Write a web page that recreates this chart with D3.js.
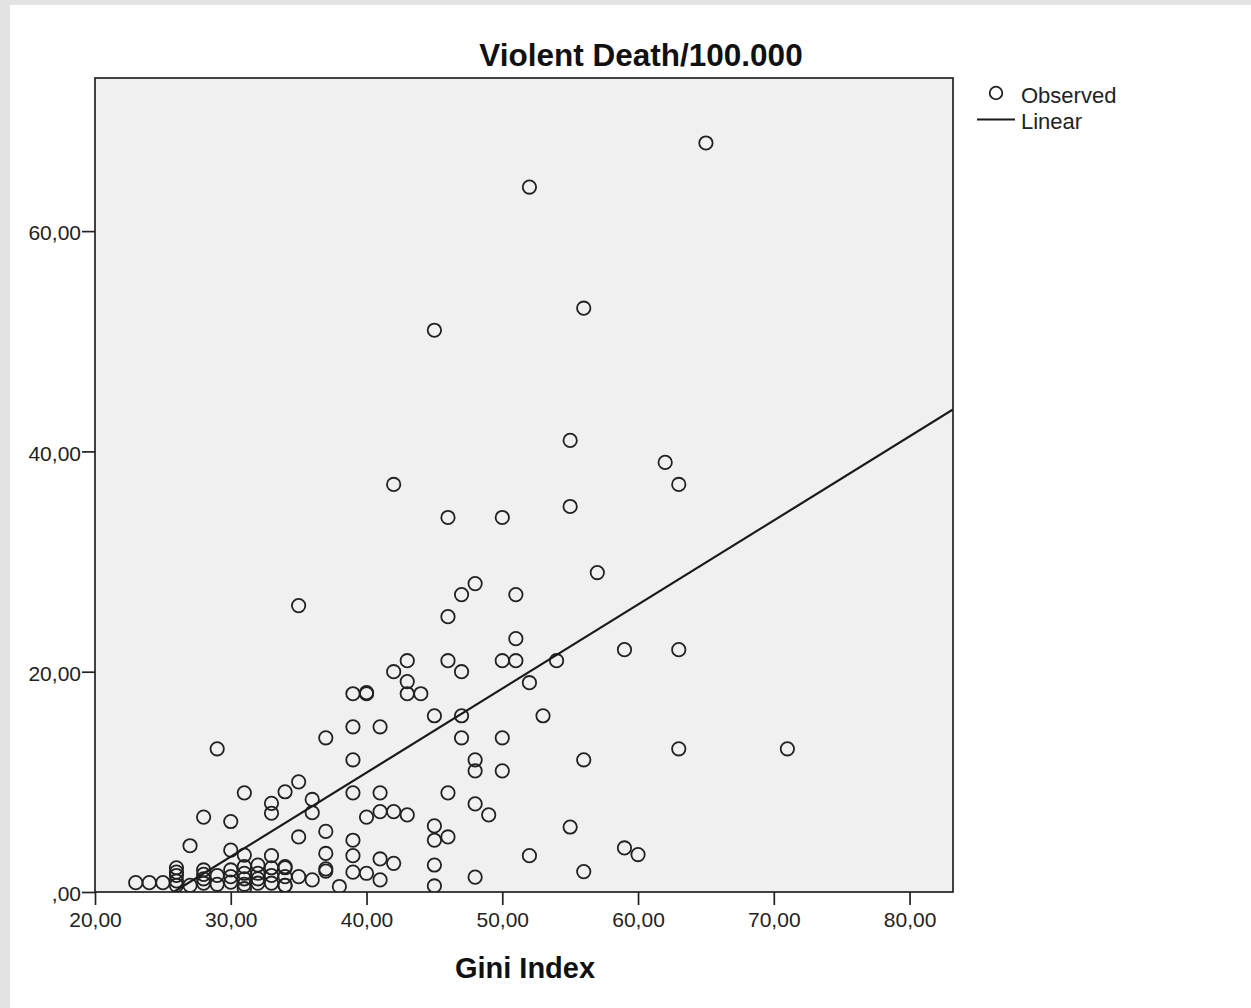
<!DOCTYPE html>
<html>
<head>
<meta charset="utf-8">
<script src="https://cdn.jsdelivr.net/npm/d3@7"></script>
<style>
  html, body { margin: 0; padding: 0; background: #e3e3e3; }
  #chart { position: absolute; left: 10px; top: 5px; width: 1241px; height: 1003px; background: #fff; }
  svg { display: block; }
</style>
</head>
<body>
<div id="chart"></div>
<script>
// Gini Index (x) vs Violent Death / 100.000 (y)
const giniIndex = [
  65, 52, 56, 45, 55, 62, 63, 42, 46, 50, 55, 57, 48, 47, 51, 35, 46, 51,
  46, 43, 50, 51, 54, 59, 63, 47, 42, 43, 43, 52, 39, 40, 40, 44, 45, 47,
  53, 39, 41, 37, 47, 50, 29, 63, 71, 48, 48, 39, 56, 50, 35, 34, 31, 39,
  41, 46, 36, 36, 33, 33, 48, 28, 30, 41, 42, 43, 40, 49, 45, 55, 35, 37,
  45, 46, 39, 27, 59, 60, 52, 37, 39, 41, 42, 45, 30, 31, 33, 32, 34, 37,
  37, 39, 40, 41, 56, 48, 38, 45, 36, 35, 34, 34, 23, 24, 25, 26, 26, 26,
  26, 26, 27, 28, 28, 28, 28, 29, 29, 30, 30, 30, 31, 31, 31, 31, 31, 32,
  32, 32, 33, 33, 33, 34, 34
];
const violentDeath = [
  68, 64, 53, 51, 41, 39, 37, 37, 34, 34, 35, 29, 28, 27, 27, 26, 25, 23,
  21, 21, 21, 21, 21, 22, 22, 20, 20, 19.1, 18, 19, 18, 18, 18.1, 18, 16, 16,
  16, 15, 15, 14, 14, 14, 13, 13, 13, 12, 11, 12, 12, 11, 10, 9.1, 9, 9,
  9, 9, 8.4, 7.2, 8.05, 7.15, 8, 6.8, 6.4, 7.3, 7.3, 7, 6.8, 7, 6, 5.9, 5, 5.5,
  4.7, 5, 4.7, 4.2, 4, 3.4, 3.3, 3.5, 3.3, 3, 2.6, 2.45, 3.8, 3.35, 3.3, 2.45, 2.3, 2.1,
  1.9, 1.8, 1.7, 1.1, 1.85, 1.35, 0.5, 0.55, 1.1, 1.4, 1.4, 0.6, 0.85, 0.85, 0.85, 2.2, 1.8, 1.5,
  1.0, 0.6, 0.6, 2.0, 1.6, 1.2, 0.8, 1.5, 0.7, 2.0, 1.4, 0.9, 2.3, 1.7, 1.2, 0.7, 0.3, 1.7,
  1.2, 0.8, 2.2, 1.5, 0.8, 2.2, 0.6
];
// linear fit line end points (x, y)
const fitX = [25.8, 83.2];
const fitY = [0, 43.8];

const xTicks = [20, 30, 40, 50, 60, 70, 80];
const yTicks = [0, 20, 40, 60];
const xDomain = [20, 83.2];
const yDomain = [0, 73.9];

const chartTitle = 'Violent Death/100.000';
const xTitle = 'Gini Index';
const legendLabels = ['Observed', 'Linear'];

const width = 1241;
const height = 1003;
// page offset of the white panel is (10,5); positions below are inside it
const plot = { left: 85, top: 73, right: 943, bottom: 887 };

const fmt = v => v === 0 ? ',00' : d3.format('.2f')(v).replace('.', ',');

const x = d3.scaleLinear().domain(xDomain).range([plot.left, plot.right]);
const y = d3.scaleLinear().domain(yDomain).range([plot.bottom, plot.top]);

const svg = d3.select('#chart')
  .append('svg')
  .attr('width', width)
  .attr('height', height)
  .style('font-family', '"Liberation Sans", Arial, sans-serif');

svg.append('defs').append('clipPath')
  .attr('id', 'plotClip')
  .append('rect')
  .attr('x', plot.left)
  .attr('y', plot.top)
  .attr('width', plot.right - plot.left)
  .attr('height', plot.bottom - plot.top);

// plot background
svg.append('rect')
  .attr('x', plot.left)
  .attr('y', plot.top)
  .attr('width', plot.right - plot.left)
  .attr('height', plot.bottom - plot.top)
  .attr('fill', '#f0f0f0');

// axes
const xAxis = svg.append('g')
  .attr('transform', `translate(0,${plot.bottom})`)
  .call(d3.axisBottom(x).tickValues(xTicks).tickFormat(fmt).tickSize(13).tickPadding(7));

const yAxis = svg.append('g')
  .attr('transform', `translate(${plot.left},0)`)
  .call(d3.axisLeft(y).tickValues(yTicks).tickFormat(fmt).tickSize(13).tickPadding(1));

[xAxis, yAxis].forEach(g => {
  g.select('.domain').remove();
  g.selectAll('.tick line').attr('stroke', '#222').attr('stroke-width', 1.7);
  g.selectAll('.tick text')
    .attr('font-size', '21px')
    .attr('fill', '#222')
    .attr('font-family', '"Liberation Sans", Arial, sans-serif');
});
yAxis.selectAll('.tick text').attr('dy', '0.42em');

// scatter points
svg.append('g')
  .attr('clip-path', 'url(#plotClip)')
  .selectAll('circle')
  .data(d3.zip(giniIndex, violentDeath))
  .enter()
  .append('circle')
  .attr('cx', d => x(d[0]))
  .attr('cy', d => y(d[1]))
  .attr('r', 6.7)
  .attr('fill', 'none')
  .attr('stroke', '#222')
  .attr('stroke-width', 1.8);

// fit line
svg.append('path')
  .attr('clip-path', 'url(#plotClip)')
  .datum(d3.zip(fitX, fitY))
  .attr('d', d3.line().x(d => x(d[0])).y(d => y(d[1])))
  .attr('fill', 'none')
  .attr('stroke', '#1a1a1a')
  .attr('stroke-width', 2.2);

// plot frame
svg.append('rect')
  .attr('x', plot.left)
  .attr('y', plot.top)
  .attr('width', plot.right - plot.left)
  .attr('height', plot.bottom - plot.top)
  .attr('fill', 'none')
  .attr('stroke', '#222')
  .attr('stroke-width', 1.7);

// titles
svg.append('text')
  .attr('x', 631)
  .attr('y', 61)
  .attr('text-anchor', 'middle')
  .attr('font-size', '31.5px')
  .attr('font-weight', 'bold')
  .attr('fill', '#111')
  .text(chartTitle);

svg.append('text')
  .attr('x', (plot.left + plot.right) / 2 + 1)
  .attr('y', 973)
  .attr('text-anchor', 'middle')
  .attr('font-size', '29px')
  .attr('font-weight', 'bold')
  .attr('fill', '#111')
  .text(xTitle);

// legend
const legend = svg.append('g');
legend.append('circle')
  .attr('cx', 986)
  .attr('cy', 88)
  .attr('r', 6.3)
  .attr('fill', 'none')
  .attr('stroke', '#222')
  .attr('stroke-width', 1.8);
legend.append('line')
  .attr('x1', 967)
  .attr('x2', 1005)
  .attr('y1', 114.5)
  .attr('y2', 114.5)
  .attr('stroke', '#1a1a1a')
  .attr('stroke-width', 2.2);
legend.selectAll('text.lbl')
  .data(legendLabels)
  .enter()
  .append('text')
  .attr('class', 'lbl')
  .attr('x', 1011)
  .attr('y', (d, i) => 98 + i * 26)
  .attr('font-size', '22px')
  .attr('fill', '#222')
  .text(d => d);
</script>
</body>
</html>
